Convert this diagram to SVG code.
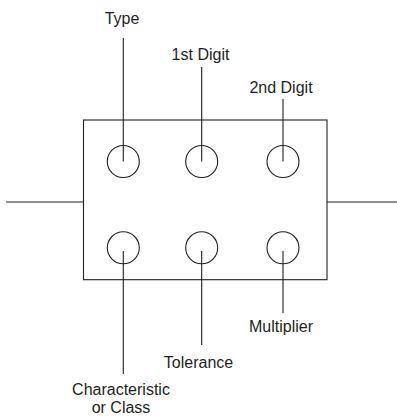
<svg xmlns="http://www.w3.org/2000/svg" width="397" height="416" viewBox="0 0 397 416">
<style>
.s{fill:none;stroke:#231f20;stroke-width:1.1}
text{font-family:"Liberation Sans",Arial,sans-serif;font-size:16px;fill:#231f20;text-anchor:middle}
</style>
<rect width="397" height="416" fill="#fff"/>
<g id="body"><rect class="s" x="83.5" y="120" width="243.5" height="159.7"/></g>
<g id="connectors">
<line class="s" x1="6" y1="202" x2="83.5" y2="202"/>
<line class="s" x1="327" y1="202" x2="397" y2="202"/>
<line class="s" x1="123.3" y1="38" x2="123.3" y2="161.5"/>
<line class="s" x1="201.7" y1="67" x2="201.7" y2="161.5"/>
<line class="s" x1="283" y1="99" x2="283" y2="161.5"/>
<line class="s" x1="123.3" y1="251" x2="123.3" y2="374"/>
<line class="s" x1="201.7" y1="251" x2="201.7" y2="345"/>
<line class="s" x1="283" y1="251" x2="283" y2="313"/>
</g>
<g id="type"><circle class="s" cx="123.3" cy="161.5" r="16"/><text x="122" y="24">Type</text></g>
<g id="digit1"><circle class="s" cx="201.7" cy="161.5" r="16"/><text x="200.5" y="60">1st Digit</text></g>
<g id="digit2"><circle class="s" cx="283" cy="161.5" r="16"/><text x="281" y="93">2nd Digit</text></g>
<g id="characteristic"><circle class="s" cx="123.3" cy="247.8" r="16"/><text x="121" y="395">Characteristic</text><text x="121" y="413">or Class</text></g>
<g id="tolerance"><circle class="s" cx="201.7" cy="247.8" r="16"/><text x="198.5" y="367.5">Tolerance</text></g>
<g id="multiplier"><circle class="s" cx="283" cy="247.8" r="16"/><text x="281" y="332">Multiplier</text></g>
</svg>
